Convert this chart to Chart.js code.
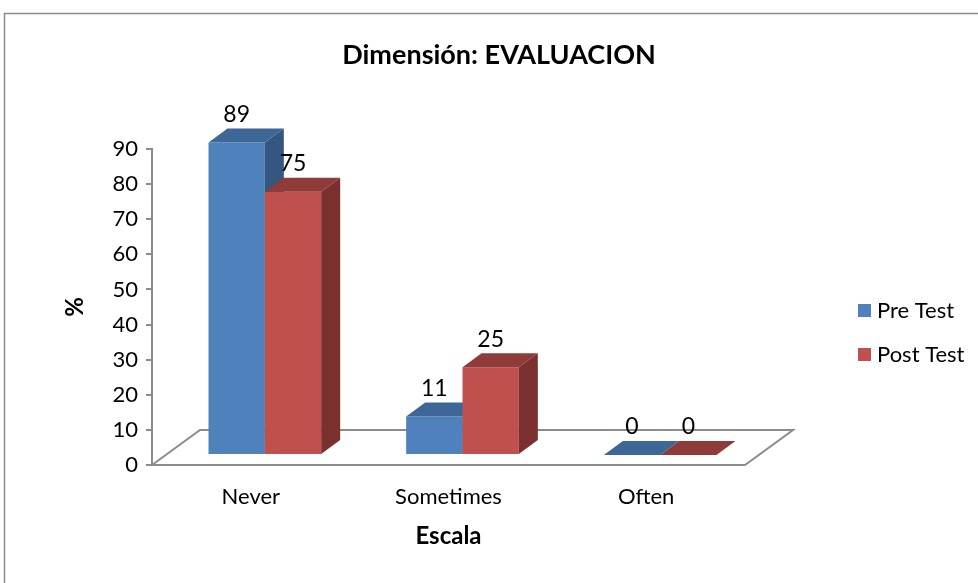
<!DOCTYPE html>
<html>
<head>
<meta charset="utf-8">
<script src="https://cdn.jsdelivr.net/npm/chart.js@4.4.1/dist/chart.umd.min.js"></script>
<style>
  html, body { margin: 0; padding: 0; background: #fff; overflow: hidden; }
  canvas { display: block; }
</style>
</head>
<body>
<canvas id="chart" width="998" height="583"></canvas>
<script>
// data
const categories = ['Never', 'Sometimes', 'Often'];
const seriesNames = ['Pre Test', 'Post Test'];
const preTest = [89, 11, 0];
const postTest = [75, 25, 0];
const yTicks = [0, 10, 20, 30, 40, 50, 60, 70, 80, 90];

const FONT = 'Lato, "Open Sans", sans-serif';
const frontColors = ['#4f81bd', '#c0504d'];
const topColors = ['#3d6796', '#8f3b39'];
const sideColors = ['#34567f', '#7a302e'];
const lineGray = '#8c8c8c';

// fake 3d: bars sit a little behind the front edge of the floor
const SHIFT_X = 14, SHIFT_Y = -10;
const DEPTH_X = 19, DEPTH_Y = -14;
const FLOOR_X = 48, FLOOR_Y = -35;

function poly(ctx, pts, color) {
    ctx.fillStyle = color;
    ctx.beginPath();
    ctx.moveTo(pts[0][0], pts[0][1]);
    for (let k = 1; k < pts.length; k++) ctx.lineTo(pts[k][0], pts[k][1]);
    ctx.closePath();
    ctx.fill();
}

const bars3d = {
    id: 'bars3d',
    beforeDraw(chart) {
        const ctx = chart.ctx;
        ctx.save();
        ctx.strokeStyle = lineGray;
        ctx.lineWidth = 1.5;
        ctx.strokeRect(4.5, 13.5, 1200, 800); // outer chart frame
        ctx.restore();
    },
    beforeDatasetsDraw(chart) {
        const ctx = chart.ctx;
        const xs = chart.scales.x, ys = chart.scales.y;
        const y0 = ys.getPixelForValue(0);

        // floor
        ctx.save();
        ctx.strokeStyle = lineGray;
        ctx.lineWidth = 2;
        ctx.beginPath();
        ctx.moveTo(xs.left, y0);
        ctx.lineTo(xs.left + FLOOR_X, y0 + FLOOR_Y);
        ctx.lineTo(xs.right + FLOOR_X, y0 + FLOOR_Y);
        ctx.lineTo(xs.right, y0);
        ctx.closePath();
        ctx.stroke();

        // bars, one series after the other so the post test hides the pre test side
        chart.data.datasets.forEach((ds, i) => {
            const meta = chart.getDatasetMeta(i);
            meta.data.forEach(bar => {
                const l = bar.x - bar.width / 2 + SHIFT_X;
                const r = bar.x + bar.width / 2 + SHIFT_X;
                const t = bar.y + SHIFT_Y;
                const b = bar.base + SHIFT_Y;
                if (b - t > 0.5) poly(ctx, [[l, t], [r, t], [r, b], [l, b]], frontColors[i]);
                poly(ctx, [[l, t], [r, t], [r + DEPTH_X, t + DEPTH_Y], [l + DEPTH_X, t + DEPTH_Y]], topColors[i]);
                if (b - t > 0.5) poly(ctx, [[r, t], [r + DEPTH_X, t + DEPTH_Y], [r + DEPTH_X, b + DEPTH_Y], [r, b]], sideColors[i]);
            });
        });

        // value labels
        ctx.fillStyle = '#000';
        ctx.font = '23px ' + FONT;
        ctx.textAlign = 'center';
        ctx.textBaseline = 'middle';
        chart.data.datasets.forEach((ds, i) => {
            chart.getDatasetMeta(i).data.forEach((bar, j) => {
                ctx.fillText(String(ds.data[j]), bar.x + SHIFT_X, bar.y + SHIFT_Y + DEPTH_Y - 14);
            });
        });
        ctx.restore();
        return false;
    },
    afterDraw(chart) {
        const ctx = chart.ctx;
        ctx.save();
        // title
        ctx.fillStyle = '#000';
        ctx.font = 'bold 27px ' + FONT;
        ctx.textAlign = 'center';
        ctx.textBaseline = 'middle';
        ctx.fillText('Dimensión: EVALUACION', 499, 55);

        // legend
        ctx.font = '22px ' + FONT;
        ctx.textAlign = 'left';
        chart.data.datasets.forEach((ds, i) => {
            const cy = 311 + i * 44;
            ctx.fillStyle = ds.backgroundColor;
            ctx.fillRect(858, cy - 7, 13, 13);
            ctx.fillStyle = '#000';
            ctx.fillText(ds.label, 877, cy);
        });
        ctx.restore();
    }
};

new Chart(document.getElementById('chart'), {
    type: 'bar',
    data: {
        labels: categories,
        datasets: [
            { label: seriesNames[0], data: preTest, backgroundColor: frontColors[0] },
            { label: seriesNames[1], data: postTest, backgroundColor: frontColors[1] }
        ]
    },
    options: {
        responsive: false,
        animation: false,
        devicePixelRatio: 1,
        barPercentage: 1,
        categoryPercentage: 0.57,
        layout: { padding: { left: 60, right: 253, top: 149, bottom: 0 } },
        plugins: {
            legend: { display: false },
            title: { display: false },
            tooltip: { enabled: false }
        },
        scales: {
            x: {
                grid: { display: false, drawTicks: false },
                border: { display: false },
                ticks: { color: '#000', font: { family: FONT, size: 22 }, padding: 19, maxRotation: 0 },
                title: { display: true, text: 'Escala', color: '#000', font: { family: FONT, size: 24, weight: 'bold' }, padding: { top: 0, bottom: 32 } },
                afterFit(scale) { scale.height = 118; }
            },
            y: {
                min: 0,
                max: 90,
                afterBuildTicks(scale) { scale.ticks = yTicks.map(v => ({ value: v })); },
                grid: { drawOnChartArea: false, drawTicks: true, tickLength: 6, color: lineGray, lineWidth: 2 },
                border: { display: true, color: lineGray, width: 2 },
                ticks: { color: '#000', font: { family: FONT, size: 22 }, padding: 8 },
                title: { display: true, text: '%', color: '#000', font: { family: FONT, size: 24, weight: 'bold' }, padding: { top: 1, bottom: 0 } },
                afterFit(scale) { scale.width = 92; }
            }
        }
    },
    plugins: [bars3d]
});
</script>
</body>
</html>
